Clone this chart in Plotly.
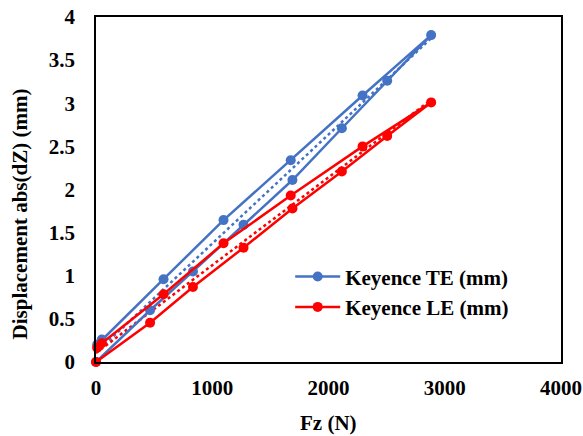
import numpy as np
import plotly.graph_objects as go

force_n = [0, 465, 834, 1269, 1690, 2115, 2505, 2883, 2293, 1675, 1097, 581, 50, 10]
disp_te = [0, 0.60, 1.05, 1.59, 2.11, 2.71, 3.26, 3.79, 3.09, 2.34, 1.645, 0.96, 0.26, 0.20]
disp_le = [0, 0.455, 0.87, 1.325, 1.78, 2.21, 2.62, 3.01, 2.50, 1.93, 1.376, 0.785, 0.217, 0.166]
series_names = ["Keyence TE (mm)", "Keyence LE (mm)"]
colors = ["#4472C4", "#FF0000"]
x_ticks = [0, 1000, 2000, 3000, 4000]
y_ticks = [0, 0.5, 1, 1.5, 2, 2.5, 3, 3.5, 4]
y_tick_text = ["0", "0.5", "1", "1.5", "2", "2.5", "3", "3.5", "4"]

FONT = "Liberation Serif"
FS = 21

fig = go.Figure()
xs = np.array(force_n, dtype=float)
for name, ys, col in zip(series_names, [disp_te, disp_le], colors):
    ys = np.array(ys, dtype=float)
    k, b = np.polyfit(xs, ys, 1)
    xr = np.array([xs.min(), xs.max()])
    fig.add_trace(go.Scatter(x=xr, y=k * xr + b, mode="lines",
                             line=dict(color=col, width=2.5, dash="dot"),
                             showlegend=False, hoverinfo="skip"))
for name, ys, col in zip(series_names, [disp_te, disp_le], colors):
    fig.add_trace(go.Scatter(x=force_n, y=ys, mode="lines+markers", name="<b>" + name + "</b>",
                             line=dict(color=col, width=2.5),
                             marker=dict(color=col, size=10), cliponaxis=False))

fig.update_layout(
    width=583, height=436,
    margin=dict(l=96, r=22, t=17, b=74, autoexpand=False),
    paper_bgcolor="white", plot_bgcolor="white",
    font=dict(family=FONT, size=FS, color="black"),
    legend=dict(x=0.4176, y=0.306, xanchor="left", yanchor="top",
                bgcolor="rgba(0,0,0,0)", font=dict(family=FONT, size=FS),
                itemwidth=45, tracegroupgap=0),
    xaxis=dict(range=[0, 4000], tickvals=x_ticks, ticktext=["<b>%d</b>" % v for v in x_ticks],
               showgrid=False, zeroline=False,
               showline=True, linecolor="black", linewidth=1.8, mirror=True,
               ticks="outside", ticklen=6, tickcolor="rgba(0,0,0,0)", automargin=False,
               tickfont=dict(family=FONT, size=FS)),
    yaxis=dict(range=[0, 4], tickvals=y_ticks, ticktext=["<b>%s</b>" % t for t in y_tick_text],
               showgrid=False,
               zeroline=False, showline=True, linecolor="black", linewidth=1.8, mirror=True,
               ticks="outside", ticklen=15, tickcolor="rgba(0,0,0,0)", automargin=False,
               tickfont=dict(family=FONT, size=FS)),
    annotations=[
        dict(text="<b>Fz (N)</b>", xref="paper", yref="paper", x=0.5, y=-0.177,
             xanchor="center", yanchor="middle", showarrow=False,
             font=dict(family=FONT, size=FS)),
        dict(text="<b>Displacement abs(dZ) (mm)</b>", xref="paper", yref="paper",
             x=-0.164, y=0.43, xanchor="center", yanchor="middle", textangle=-90,
             showarrow=False, font=dict(family=FONT, size=FS)),
    ],
)
fig.write_html("out.html", config={"displayModeBar": False},
               post_script="document.body.style.margin='0';document.body.style.overflow='hidden';")
